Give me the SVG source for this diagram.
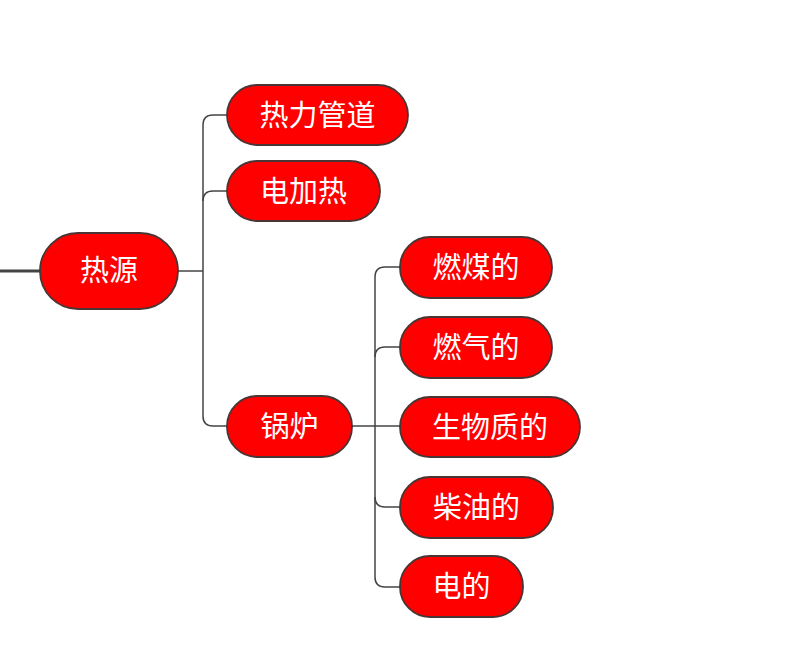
<svg xmlns="http://www.w3.org/2000/svg" width="800" height="663" viewBox="0 0 800 663">
<style>
.n rect{fill:#ff0000;stroke:#4a3535;stroke-width:1.8}
.n text{fill:#ffffff;font-family:"Noto Sans CJK SC","Noto Sans",sans-serif;font-size:29px;text-anchor:middle}
.c path{fill:none;stroke:#444;stroke-width:1.5}
</style>
<rect width="800" height="663" fill="#ffffff"/>
<g id="connectors" class="c">
<path d="M0 271H40" style="stroke-width:3"/>
<path d="M178 271H203"/>
<path d="M227 115H213Q203 115 203 125V416Q203 426 213 426H227"/>
<path d="M203 201Q203 191 213 191H227"/>
<path d="M352 426H400"/>
<path d="M400 267H385Q375 267 375 277V577Q375 587 385 587H400"/>
<path d="M375 357Q375 347 385 347H400"/>
<path d="M375 497Q375 507 385 507H400"/>
</g>
<g id="n-heat" class="n"><rect x="40" y="233" width="138" height="76" rx="38"/><text x="109" y="281">热源</text></g>
<g id="n-pipe" class="n"><rect x="227" y="85" width="181" height="60" rx="30"/><text x="317.5" y="125.5">热力管道</text></g>
<g id="n-elec" class="n"><rect x="227" y="161" width="153" height="60" rx="30"/><text x="303.5" y="201.5">电加热</text></g>
<g id="n-boiler" class="n"><rect x="227" y="396" width="125" height="61" rx="30"/><text x="289.5" y="437">锅炉</text></g>
<g id="n-coal" class="n"><rect x="400" y="237" width="152" height="61" rx="30"/><text x="476" y="278">燃煤的</text></g>
<g id="n-gas" class="n"><rect x="400" y="317" width="152" height="61" rx="30"/><text x="476" y="358">燃气的</text></g>
<g id="n-bio" class="n"><rect x="400" y="397" width="180" height="60" rx="30"/><text x="490" y="437.5">生物质的</text></g>
<g id="n-diesel" class="n"><rect x="400" y="477" width="153" height="61" rx="30"/><text x="476.5" y="518">柴油的</text></g>
<g id="n-electric" class="n"><rect x="400" y="556" width="123" height="61" rx="30"/><text x="461.5" y="597">电的</text></g>
</svg>
